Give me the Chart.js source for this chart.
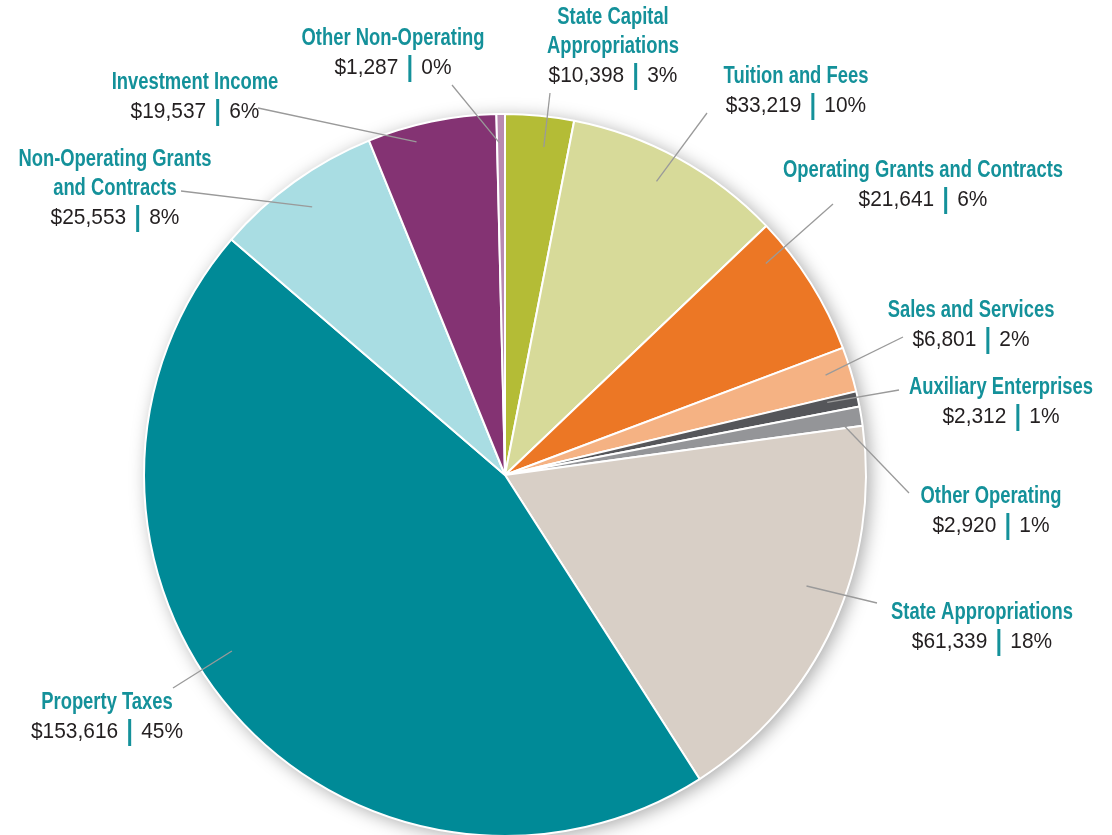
<!DOCTYPE html>
<html>
<head>
<meta charset="utf-8">
<script src="https://cdn.jsdelivr.net/npm/chart.js@4.4.1/dist/chart.umd.min.js"></script>
<style>
  html, body { margin: 0; padding: 0; background: #fff; overflow: hidden; }
  #wrap { width: 1112px; height: 850px; }
</style>
</head>
<body>
<div id="wrap"><canvas id="revenueChart" width="1112" height="850"></canvas></div>
<script>
// 데이터
const categories = [
    ['State Capital', 'Appropriations'],
    ['Tuition and Fees'],
    ['Operating Grants and Contracts'],
    ['Sales and Services'],
    ['Auxiliary Enterprises'],
    ['Other Operating'],
    ['State Appropriations'],
    ['Property Taxes'],
    ['Non-Operating Grants', 'and Contracts'],
    ['Investment Income'],
    ['Other Non-Operating']
];
const amounts = [10398, 33219, 21641, 6801, 2312, 2920, 61339, 153616, 25553, 19537, 1287];
const sliceColors = [
    '#B4BC36', '#D7DA99', '#EC7725', '#F5B283', '#55565A', '#949598',
    '#D8CFC6', '#008A97', '#A9DDE3', '#843373', '#B98AB1'
];

// 라벨 위치: 텍스트 중심(x, y), 지시선 바깥 끝(lx, ly), 조각 안쪽 끝(t: 조각 내 각도 비율, rf: 반지름 비율)
const labelSpots = [
    { x: 613, y: 18, lx: 550, ly: 93, t: 0.61, rf: 0.915 },
    { x: 796, y: 77, lx: 707, ly: 113, t: 0.46, rf: 0.915 },
    { x: 923, y: 171, lx: 833, ly: 204, t: 0.20, rf: 0.93 },
    { x: 971, y: 311, lx: 903, ly: 337, t: 0.46, rf: 0.93 },
    { x: 1001, y: 388, lx: 899, ly: 390, t: 0.28, rf: 0.915 },
    { x: 991, y: 497, lx: 909, ly: 493, t: 0.88, rf: 0.95 },
    { x: 982, y: 613, lx: 877, ly: 603, t: 0.43, rf: 0.89 },
    { x: 107, y: 703, lx: 173, ly: 688, t: 0.55, rf: 0.90 },
    { x: 115, y: 160, lx: 181, ly: 191, t: 0.50, rf: 0.915 },
    { x: 195, y: 83, lx: 258, ly: 108, t: 0.35, rf: 0.955 },
    { x: 393, y: 39, lx: 452, ly: 85, t: 0.30, rf: 0.92 }
];

const TEAL = '#14919A';
const TITLE_FONT = 'bold 23px "Liberation Sans", Arial, sans-serif';
const TITLE_SX = 0.8;
const VALUE_FONT = '22px "Liberation Sans", Arial, sans-serif';
const VALUE_SX = 0.95;
const LINE_H = 29;

const total = amounts.reduce((a, b) => a + b, 0);

// 가로로 좁힌 텍스트
function narrowText(ctx, text, x, y, sx) {
    ctx.save();
    ctx.translate(x, y);
    ctx.scale(sx, 1);
    ctx.fillText(text, 0, 0);
    ctx.restore();
}

// 그림자
const shadowPlugin = {
    id: 'pieShadow',
    beforeDatasetsDraw(chart) {
        const arc = chart.getDatasetMeta(0).data[0];
        if (!arc) return;
        const ctx = chart.ctx;
        ctx.save();
        ctx.beginPath();
        ctx.arc(arc.x, arc.y, arc.outerRadius, 0, Math.PI * 2);
        ctx.shadowColor = 'rgba(0,0,0,0.35)';
        ctx.shadowBlur = 18;
        ctx.shadowOffsetX = 4;
        ctx.shadowOffsetY = 3;
        ctx.fillStyle = '#ffffff';
        ctx.fill();
        ctx.restore();
    }
};

// 라벨 + 지시선
const labelPlugin = {
    id: 'pieLabels',
    afterDatasetsDraw(chart) {
        const ctx = chart.ctx;
        const meta = chart.getDatasetMeta(0);
        ctx.save();
        meta.data.forEach((arc, i) => {
            const spot = labelSpots[i];
            const ang = arc.startAngle + (arc.endAngle - arc.startAngle) * spot.t;
            const r = arc.outerRadius * spot.rf;
            const px = arc.x + Math.cos(ang) * r;
            const py = arc.y + Math.sin(ang) * r;

            ctx.strokeStyle = '#9A9A9A';
            ctx.lineWidth = 1.3;
            ctx.beginPath();
            ctx.moveTo(spot.lx, spot.ly);
            ctx.lineTo(px, py);
            ctx.stroke();

            // 제목
            const lines = categories[i];
            ctx.font = TITLE_FONT;
            ctx.fillStyle = TEAL;
            ctx.textAlign = 'center';
            ctx.textBaseline = 'middle';
            lines.forEach((ln, k) => narrowText(ctx, ln, spot.x, spot.y + k * LINE_H, TITLE_SX));

            // 값 | 퍼센트
            const vy = spot.y + lines.length * LINE_H;
            const amt = '$' + amounts[i].toLocaleString('en-US');
            const pct = Math.round(amounts[i] / total * 100) + '%';
            ctx.font = VALUE_FONT;
            ctx.textAlign = 'left';
            const w1 = ctx.measureText(amt).width * VALUE_SX;
            const w2 = ctx.measureText(pct).width * VALUE_SX;
            const gap = 10, barW = 3;
            const full = w1 + gap * 2 + barW + w2;
            const x0 = spot.x - full / 2;
            ctx.fillStyle = '#231F20';
            narrowText(ctx, amt, x0, vy, VALUE_SX);
            ctx.fillStyle = TEAL;
            ctx.fillRect(x0 + w1 + gap, vy - 13, barW, 27);
            ctx.fillStyle = '#231F20';
            narrowText(ctx, pct, x0 + w1 + gap * 2 + barW, vy, VALUE_SX);
        });
        ctx.restore();
    }
};

const chart = new Chart(document.getElementById('revenueChart'), {
    type: 'pie',
    data: {
        labels: categories,
        datasets: [{
            data: amounts,
            backgroundColor: sliceColors,
            borderColor: '#ffffff',
            borderWidth: 2
        }]
    },
    options: {
        responsive: false,
        animation: false,
        layout: {
            padding: { top: 113, bottom: 13, left: 143, right: 245 }
        },
        plugins: {
            legend: { display: false },
            tooltip: { enabled: false }
        }
    },
    plugins: [shadowPlugin, labelPlugin]
});
</script>
</body>
</html>
